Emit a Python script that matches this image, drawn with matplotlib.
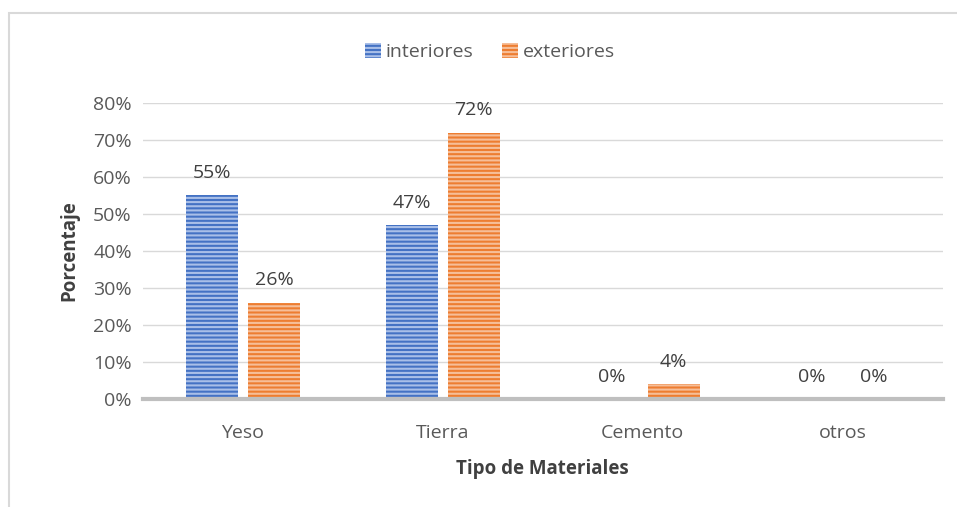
import matplotlib.pyplot as plt
from matplotlib.patches import Rectangle, Patch
import numpy as np

categories = ["Yeso", "Tierra", "Cemento", "otros"]
interiores = [55, 47, 0, 0]
exteriores = [26, 72, 4, 0]

plt.rcParams['font.family'] = ['Open Sans', 'DejaVu Sans']
plt.rcParams['hatch.linewidth'] = 1.5

fig = plt.figure(figsize=(9.57, 5.07), dpi=100)
ax = fig.add_axes([0.1494, 0.213, 0.8356, 0.584])

# outer border
fig.patches.append(Rectangle((9 / 957, -0.01), 1.0, 1 - 13 / 507 + 0.01, transform=fig.transFigure,
                             fill=False, edgecolor="#D9D9D9", linewidth=1.5))

x = np.arange(len(categories))
w = 0.26
b1 = ax.bar(x - 0.155, interiores, w, color="#4472C4", hatch="----", edgecolor="#A9BFE8", linewidth=0)
b2 = ax.bar(x + 0.155, exteriores, w, color="#ED7D31", hatch="----", edgecolor="#F6BE98", linewidth=0)

for bars, vals in [(b1, interiores), (b2, exteriores)]:
    for r, v in zip(bars, vals):
        ax.text(r.get_x() + r.get_width() / 2, v + 3.6, f"{v}%", ha="center", va="bottom",
                fontsize=14, color="#404040")

ax.set_xlim(-0.5, 3.5)
ax.set_ylim(0, 80)
ax.set_yticks(range(0, 81, 10))
ax.set_yticklabels([f"{t}%" for t in range(0, 81, 10)])
ax.set_xticks(x)
ax.set_xticklabels(categories)
ax.tick_params(length=0, labelsize=14, colors="#595959")
ax.tick_params(axis="x", pad=18)
ax.tick_params(axis="y", pad=8)
ax.grid(axis="y", color="#D9D9D9", linewidth=1)
ax.set_axisbelow(True)
for s in ["top", "right", "left"]:
    ax.spines[s].set_visible(False)
ax.spines["bottom"].set_color("#BFBFBF")
ax.spines["bottom"].set_linewidth(3)

ax.set_xlabel("Tipo de Materiales", fontsize=13.5, fontweight="bold", color="#404040", labelpad=12)
ax.set_ylabel("Porcentaje", fontsize=13.5, fontweight="bold", color="#404040", labelpad=10)

handles = [Patch(facecolor="#4472C4", hatch="----", edgecolor="#A9BFE8", linewidth=0),
           Patch(facecolor="#ED7D31", hatch="----", edgecolor="#F6BE98", linewidth=0)]
fig.legend(handles, ["interiores", "exteriores"], loc="center", bbox_to_anchor=(0.512, 0.897), ncol=2,
           frameon=False, fontsize=14, handlelength=0.8, handleheight=0.8, handletextpad=0.25,
           columnspacing=1.5, labelcolor="#595959")

fig.savefig("out.png", dpi=100)
